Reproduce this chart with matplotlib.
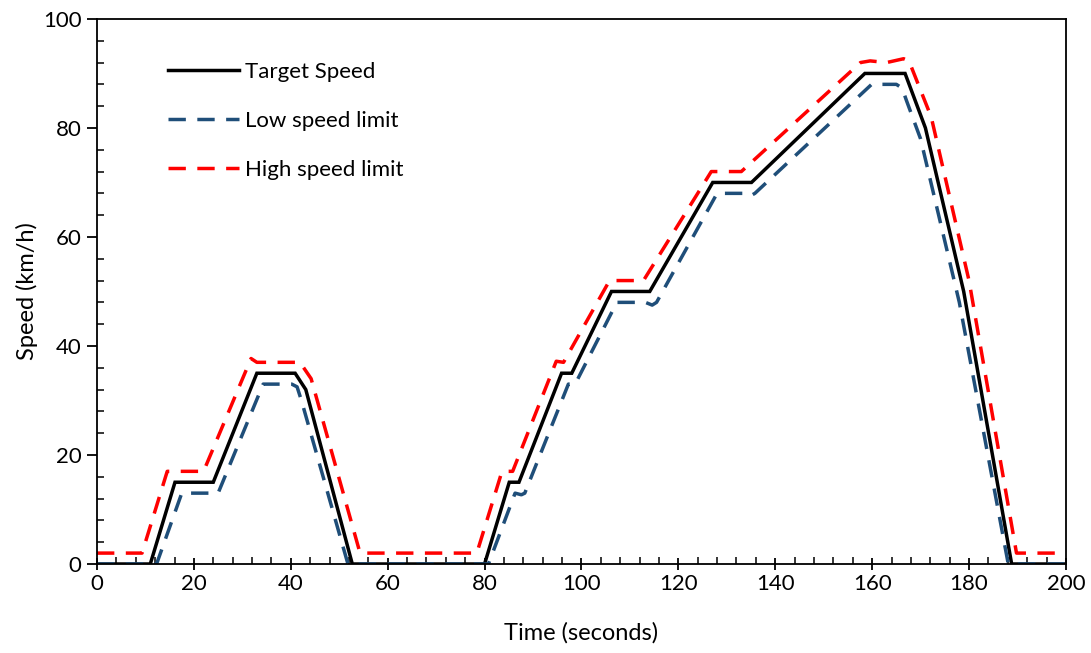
import matplotlib
matplotlib.use("Agg")
import matplotlib.pyplot as plt
from matplotlib.ticker import MultipleLocator

# Target speed profile (s, km/h)
target_t = [0, 11, 16.1, 24, 33, 40.9, 43.1, 52.7, 80, 85.1, 87.1, 95.9, 98, 106.2, 114.1, 127.1, 135.1, 158.5, 166.8, 171, 178.9, 188.8, 200]
target_v = [0, 0, 15, 15, 35, 35, 32, 0, 0, 15, 15, 35, 35, 50, 50, 70, 70, 90, 90, 80, 50, 0, 0]

# Low speed limit
low_t = [0, 12.3, 17.5, 25, 34.3, 40.2, 41.3, 42.2, 51.8, 80.8, 86.3, 87.6, 88.3, 97.3, 98.7, 107.3, 113.2, 114.6, 115.5, 128, 133.5, 134.8, 135.8, 159.9, 165, 166.2, 167.1, 170, 178, 188.1, 200]
low_v = [0, 0, 13, 13, 33, 33, 32.5, 30, 0, 0, 13, 12.7, 13, 33, 33, 48, 48, 47.5, 48, 68, 68, 67.5, 68, 88, 88, 87.3, 85, 78, 48, 0, 0]

# High speed limit
high_t = [0, 9.3, 14.5, 22, 31.8, 33, 41.9, 44.2, 54.3, 78.4, 83.6, 85.8, 94.8, 96.3, 105.8, 112.8, 126.8, 133, 157.6, 159.6, 163, 166.5, 167.6, 172.2, 180, 189.8, 200]
high_v = [2, 2, 17, 17, 37.7, 37, 37, 34, 2, 2, 17, 17, 37.2, 37, 52, 52, 72, 72, 92, 92.3, 92, 92.7, 92.3, 82, 52, 2, 2]

x_ticks = list(range(0, 201, 20))
y_ticks = list(range(0, 101, 20))

plt.rcParams['font.family'] = ['Lato', 'DejaVu Sans']

fig = plt.figure(figsize=(10.91, 6.53), dpi=100)
ax = fig.add_axes([0.0889, 0.1363, 0.8881, 0.8347])

ax.plot(target_t, target_v, color='black', lw=2.5, label='Target Speed', solid_joinstyle='miter')
ax.plot(low_t, low_v, color='#1F4E79', lw=2.5, dashes=(5, 3.3), label='Low speed limit')
ax.plot(high_t, high_v, color='#FF0000', lw=2.5, dashes=(5, 3.3), label='High speed limit')

ax.set_xlim(0, 200)
ax.set_ylim(0, 100)
ax.set_xticks(x_ticks)
ax.set_yticks(y_ticks)
ax.xaxis.set_minor_locator(MultipleLocator(4))
ax.yaxis.set_minor_locator(MultipleLocator(4))
ax.tick_params(axis='x', which='major', direction='inout', length=9, width=1.3, labelsize=16, pad=3)
ax.tick_params(axis='y', which='major', direction='out', length=7, width=1.3, labelsize=16, pad=4)
ax.tick_params(which='minor', direction='in', length=5, width=1.1)
ax.tick_params(top=False, right=False, which='both')
for s in ax.spines.values():
    s.set_linewidth(1.3)
    s.set_color('black')

ax.set_xlabel('Time (seconds)', fontsize=17, labelpad=20)
ax.set_ylabel('Speed (km/h)', fontsize=17, labelpad=4)

leg = ax.legend(loc='upper left', bbox_to_anchor=(0.073, 0.921), frameon=False,
                fontsize=16, handlelength=3.2, labelspacing=1.3, handletextpad=0.3,
                borderpad=0, borderaxespad=0)

fig.savefig('out.png', dpi=100)
